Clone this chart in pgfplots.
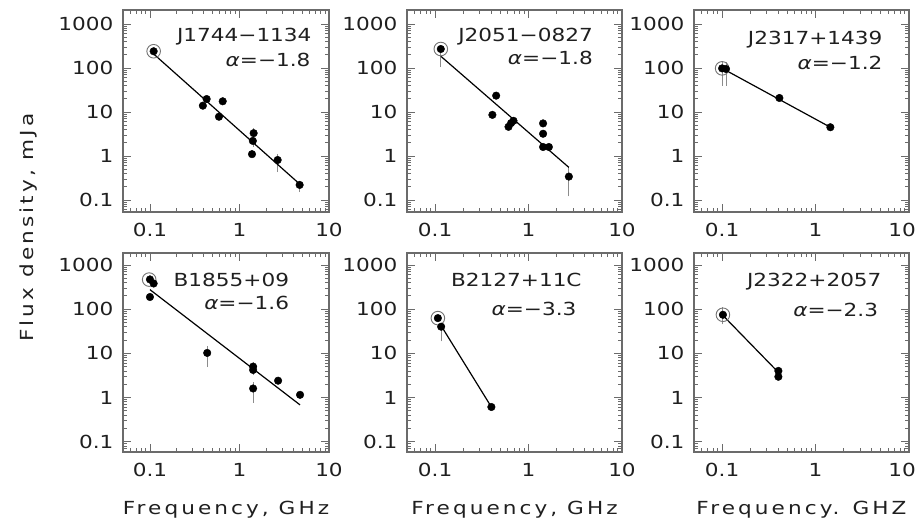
\documentclass[border=0pt]{standalone}
\usepackage{pgfplots}
\pgfplotsset{compat=1.18}
\usepackage{fontspec}
\setmainfont{DejaVu Sans}[FakeStretch=1.2]
\newfontfamily\lblfont{DejaVu Sans}[FakeStretch=1.2,LetterSpace=17]
\definecolor{txt}{gray}{0.12}
\definecolor{framec}{gray}{0.42}
\definecolor{errc}{gray}{0.55}
\definecolor{ringc}{gray}{0.45}
\newcommand{\fs}{\fontsize{18}{20}\selectfont}
\pgfplotsset{
  every axis/.append style={
    scale only axis,
    xmin=0.05, xmax=10,
    log ticks with fixed point,
    /pgf/number format/assume math mode=true,
    /pgf/number format/1000 sep={},
    xtick={0.1,1,10},
    ytick={0.1,1,10,100,1000},
    minor xtick={0.06,0.07,0.08,0.09,0.2,0.3,0.4,0.5,0.6,0.7,0.8,0.9,2,3,4,5,6,7,8,9},
    minor ytick={0.06,0.07,0.08,0.09,0.2,0.3,0.4,0.5,0.6,0.7,0.8,0.9,2,3,4,5,6,7,8,9,20,30,40,50,60,70,80,90,200,300,400,500,600,700,800,900},
    tick pos=both, tick align=inside,
    major tick length=8pt, minor tick length=4pt,
    tick style={draw=framec, line width=0.8pt},
    axis line style={draw=framec, line width=1.4pt},
    tick label style={font=\fs, text=txt},
    yticklabel style={xshift=-6pt},
    xticklabel style={yshift=-8pt},
    xlabel style={font=\lblfont\fs, text=txt, at={(axis description cs:0.5,0)}, anchor=base, yshift=-63pt},
    clip=false,
  },
}
\begin{document}
\begin{tikzpicture}
\path[use as bounding box] (0,0) rectangle (919pt,527pt);

% ---------- Panel 1 ----------
\begin{loglogaxis}[ymin=0.0533, ymax=2080, height=202pt, width=206pt, at={(123pt,315pt)}, anchor=south west]
\addplot[errc, line width=0.9pt, no marks] coordinates {(1.44,1.6) (1.44,4.3)};
\addplot[errc, line width=0.9pt, no marks] coordinates {(2.67,0.43) (2.67,1.1)};
\addplot[errc, line width=0.9pt, no marks] coordinates {(4.7,0.15) (4.7,0.27)};
\addplot[black, line width=1.2pt, no marks] coordinates {(0.11,208) (4.7,0.23)};
\addplot[only marks, mark=o, mark size=6.8pt, mark options={draw=ringc, line width=0.9pt}] coordinates {(0.11,240)};
\addplot[only marks, mark=*, mark size=3.8pt, mark options={fill=black, draw=black}] coordinates {(0.11,240) (0.43,19.7) (0.39,13.9) (0.65,17.5) (0.59,7.8) (1.44,3.3) (1.41,2.2) (1.38,1.1) (2.67,0.81) (4.7,0.22)};
\node[anchor=base east, inner sep=0, font=\fs, text=txt] at (rel axis cs:0.916,0.843) {J1744−1134};
\node[anchor=base east, inner sep=0, font=\fs, text=txt] at (rel axis cs:0.911,0.719) {\textit{α}=−1.8};
\end{loglogaxis}

% ---------- Panel 2 ----------
\begin{loglogaxis}[ymin=0.0533, ymax=2080, height=202pt, width=215pt, at={(407pt,315pt)}, anchor=south west]
\addplot[errc, line width=0.9pt, no marks] coordinates {(0.115,105) (0.115,270)};
\addplot[errc, line width=0.9pt, no marks] coordinates {(2.7,0.12) (2.7,0.56)};
\addplot[black, line width=1.2pt, no marks] coordinates {(0.115,185) (2.7,0.55)};
\addplot[only marks, mark=o, mark size=6.8pt, mark options={draw=ringc, line width=0.9pt}] coordinates {(0.115,270)};
\addplot[only marks, mark=*, mark size=3.8pt, mark options={fill=black, draw=black}] coordinates {(0.115,270) (0.45,23.5) (0.41,8.6) (0.61,4.6) (0.65,5.6) (0.69,6.3) (1.43,5.5) (1.43,3.2) (1.43,1.6) (1.65,1.6) (2.7,0.34)};
\node[anchor=base east, inner sep=0, font=\fs, text=txt] at (rel axis cs:0.865,0.843) {J2051−0827};
\node[anchor=base east, inner sep=0, font=\fs, text=txt] at (rel axis cs:0.865,0.728) {\textit{α}=−1.8};
\end{loglogaxis}

% ---------- Panel 3 ----------
\begin{loglogaxis}[ymin=0.0533, ymax=2080, height=202pt, width=215pt, at={(694pt,315pt)}, anchor=south west,
  xtick={0.1,1}, extra x ticks={10}, extra x tick style={xticklabel style={xshift=-7pt}}]
\addplot[errc, line width=0.9pt, no marks] coordinates {(0.1,39) (0.1,137)};
\addplot[errc, line width=0.9pt, no marks] coordinates {(0.11,39) (0.11,137)};
\addplot[black, line width=1.2pt, no marks] coordinates {(0.103,95) (1.44,4.5)};
\addplot[only marks, mark=o, mark size=6.8pt, mark options={draw=ringc, line width=0.9pt}] coordinates {(0.1,98)};
\addplot[only marks, mark=*, mark size=3.8pt, mark options={fill=black, draw=black}] coordinates {(0.1,98) (0.11,95) (0.41,20.8) (1.44,4.5)};
\node[anchor=base east, inner sep=0, font=\fs, text=txt] at (rel axis cs:0.877,0.827) {J2317+1439};
\node[anchor=base east, inner sep=0, font=\fs, text=txt] at (rel axis cs:0.877,0.706) {\textit{α}=−1.2};
\end{loglogaxis}

% ---------- Panel 4 ----------
\begin{loglogaxis}[ymin=0.0585, ymax=1862, height=199pt, width=206pt, at={(123pt,75pt)}, anchor=south west, xlabel={Frequency, GHz}]
\addplot[errc, line width=0.9pt, no marks] coordinates {(0.436,4.9) (0.436,15)};
\addplot[errc, line width=0.9pt, no marks] coordinates {(1.42,0.77) (1.42,2.2)};
\addplot[errc, line width=0.9pt, no marks] coordinates {(1.42,3.2) (1.42,6.2)};
\addplot[errc, line width=0.9pt, no marks] coordinates {(2.7,2.0) (2.7,2.9)};
\addplot[black, line width=1.2pt, no marks] coordinates {(0.1,276) (4.75,0.68)};
\addplot[only marks, mark=o, mark size=6.8pt, mark options={draw=ringc, line width=0.9pt}] coordinates {(0.098,466)};
\addplot[only marks, mark=*, mark size=3.8pt, mark options={fill=black, draw=black}] coordinates {(0.1,470) (0.11,380) (0.1,188) (0.436,10.2) (1.42,5) (1.42,4.2) (1.42,1.6) (2.7,2.4) (4.75,1.15)};
\node[anchor=base east, inner sep=0, font=\fs, text=txt] at (rel axis cs:0.807,0.831) {B1855+09};
\node[anchor=base east, inner sep=0, font=\fs, text=txt] at (rel axis cs:0.807,0.714) {\textit{α}=−1.6};
\end{loglogaxis}

% ---------- Panel 5 ----------
\begin{loglogaxis}[ymin=0.0585, ymax=1862, height=199pt, width=215pt, at={(407pt,75pt)}, anchor=south west, xlabel={Frequency, GHz}]
\addplot[errc, line width=0.9pt, no marks] coordinates {(0.116,18.7) (0.116,40)};
\addplot[black, line width=1.2pt, no marks] coordinates {(0.116,42) (0.40,0.61)};
\addplot[only marks, mark=o, mark size=6.8pt, mark options={draw=ringc, line width=0.9pt}] coordinates {(0.107,62.6)};
\addplot[only marks, mark=*, mark size=3.8pt, mark options={fill=black, draw=black}] coordinates {(0.107,62.6) (0.116,40) (0.40,0.61)};
\node[anchor=base east, inner sep=0, font=\fs, text=txt] at (rel axis cs:0.813,0.831) {B2127+11C};
\node[anchor=base east, inner sep=0, font=\fs, text=txt] at (rel axis cs:0.789,0.688) {\textit{α}=−3.3};
\end{loglogaxis}

% ---------- Panel 6 ----------
\begin{loglogaxis}[ymin=0.0585, ymax=1862, height=199pt, width=215pt, at={(694pt,75pt)}, anchor=south west, xlabel={Frequency. GHZ},
  xtick={0.1,1}, extra x ticks={10}, extra x tick style={xticklabel style={xshift=-7pt}}]
\addplot[errc, line width=0.9pt, no marks] coordinates {(0.102,45) (0.102,112)};
\addplot[black, line width=1.2pt, no marks] coordinates {(0.102,72) (0.40,3.7)};
\addplot[only marks, mark=o, mark size=6.8pt, mark options={draw=ringc, line width=0.9pt}] coordinates {(0.102,74.5)};
\addplot[only marks, mark=*, mark size=3.8pt, mark options={fill=black, draw=black}] coordinates {(0.102,74.5) (0.40,4.0) (0.40,2.95)};
\node[anchor=base east, inner sep=0, font=\fs, text=txt] at (rel axis cs:0.873,0.834) {J2322+2057};
\node[anchor=base east, inner sep=0, font=\fs, text=txt] at (rel axis cs:0.857,0.680) {\textit{α}=−2.3};
\end{loglogaxis}

\node[rotate=90, font=\lblfont\fs, text=txt] at (29pt,299.5pt) {Flux density, mJa};
\end{tikzpicture}
\end{document}
